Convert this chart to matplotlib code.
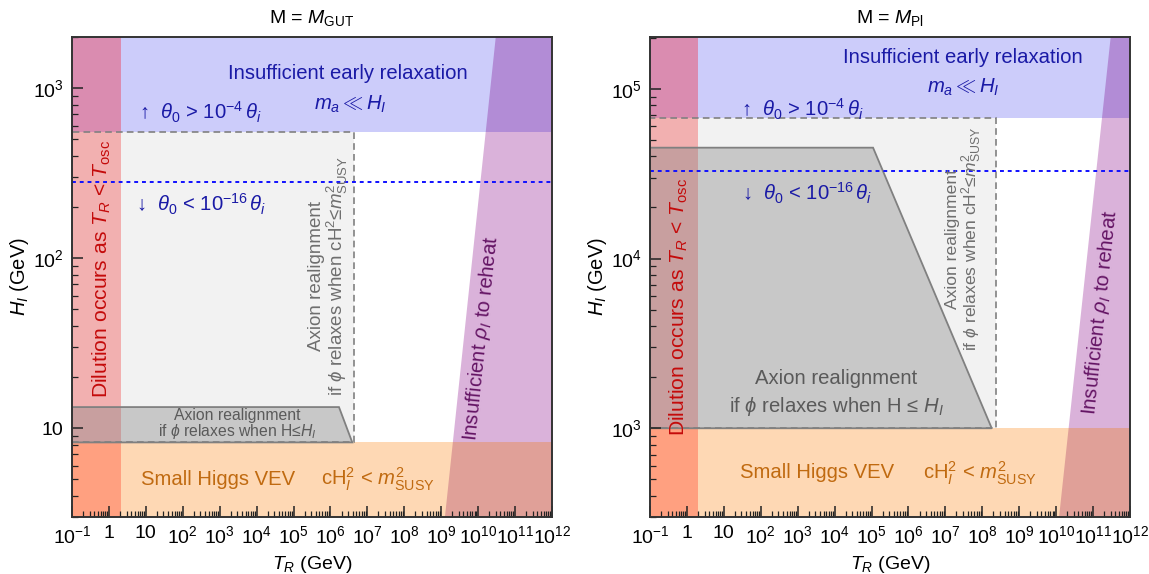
import matplotlib
matplotlib.use("Agg")
import matplotlib.pyplot as plt
from matplotlib.patches import Rectangle, Polygon
from matplotlib.ticker import FixedLocator, LogLocator, NullFormatter

plt.rcParams['font.family'] = ['Liberation Sans', 'DejaVu Sans']
plt.rcParams['mathtext.fontset'] = 'custom'
plt.rcParams['mathtext.rm'] = 'Liberation Sans'
plt.rcParams['mathtext.it'] = 'Liberation Sans:italic'
plt.rcParams['mathtext.bf'] = 'Liberation Sans:bold'

# eixo x comum (T_R em GeV)
T_lim = [1e-1, 1e12]
x_ticks = [1e-1, 1, 10, 1e2, 1e3, 1e4, 1e5, 1e6, 1e7, 1e8, 1e9, 1e10, 1e11, 1e12]
x_labels = ['$10^{-1}$', '1', '10', '$10^{2}$', '$10^{3}$', '$10^{4}$', '$10^{5}$',
            '$10^{6}$', '$10^{7}$', '$10^{8}$', '$10^{9}$', '$10^{10}$', '$10^{11}$', '$10^{12}$']

# painel esquerdo, M = M_GUT
gut_ylim = [3, 2000]
gut_yticks = [10, 100, 1000]
gut_ylabels = ['10', '$10^{2}$', '$10^{3}$']
gut_T_osc = 2.08           # faixa vermelha (diluicao)
gut_H_blue = 553           # acima: relaxacao insuficiente
gut_H_orange = 8.24        # abaixo: VEV de Higgs pequeno
gut_H_dot = 279            # linha pontilhada azul
gut_box_T = 4.4e6          # caixa tracejada cinza claro
gut_trap_T = [1.7e6, 3.9e6]  # cantos direitos do trapezio (topo, base)
gut_trap_H = 13.3
gut_reheat_T = [1.26e9, 3.0e10]  # borda da regiao roxa (base, topo)

# painel direito, M = M_Pl
pl_ylim = [300, 2.02e5]
pl_yticks = [1e3, 1e4, 1e5]
pl_ylabels = ['$10^{3}$', '$10^{4}$', '$10^{5}$']
pl_T_osc = 2.0
pl_H_blue = 6.7e4
pl_H_orange = 1000
pl_H_dot = 3.3e4
pl_box_T = 2.35e8
pl_trap_T = [1.1e5, 1.8e8]
pl_trap_H = 4.5e4
pl_reheat_T = [1.2e10, 3.0e11]

# cores
c_blue = '#ccccfa'
c_orange = '#fed8b4'
c_red = '#f2b0b0'
c_red_blue = '#da8cb0'
c_red_orange = '#ffa080'
c_purple = '#dab2da'
c_purple_blue = '#b28cd6'
c_purple_orange = '#e0a098'
c_light = '#f2f2f2'
c_dark = (134/255, 134/255, 134/255, 0.39)
c_edge = '#808080'

txt_blue = '#1a1aa6'
txt_red = '#c40a0a'
txt_orange = '#c06a10'
txt_purple = '#641464'
txt_gray = '#6e6e6e'

fs = 14.6  # tamanho dos textos principais


def painel(ax, ylim, yticks, ylabels, T_osc, H_blue, H_orange, H_dot,
           box_T, trap_T, trap_H, reheat_T):
    x0, x1 = T_lim
    y0, y1 = ylim
    ax.set_xscale('log')
    ax.set_yscale('log')
    ax.set_xlim(x0, x1)
    ax.set_ylim(y0, y1)

    # caixa cinza claro (realinhamento se cH^2 <= m_susy^2)
    ax.add_patch(Rectangle((x0, H_orange), box_T - x0, H_blue - H_orange,
                           facecolor=c_light, edgecolor='none', zorder=1))
    ax.add_patch(Rectangle((x0, H_orange), box_T - x0, H_blue - H_orange,
                           fill=False, edgecolor=c_edge, ls=(0, (4, 2.5)), lw=1.2, zorder=6))

    # faixas horizontais
    ax.fill_between([x0, x1], H_blue, y1, color=c_blue, lw=0, zorder=2)
    ax.fill_between([x0, x1], y0, H_orange, color=c_orange, lw=0, zorder=2)

    # faixa vermelha
    ax.fill_between([x0, T_osc], H_orange, H_blue, color=c_red, lw=0, zorder=3)
    ax.fill_between([x0, T_osc], H_blue, y1, color=c_red_blue, lw=0, zorder=3)
    ax.fill_between([x0, T_osc], y0, H_orange, color=c_red_orange, lw=0, zorder=3)

    # regiao roxa inclinada, cortada em tres faixas
    verts = [(reheat_T[0], y0), (reheat_T[1], y1), (x1, y1), (x1, y0)]
    for lo, hi, cor in [(H_orange, H_blue, c_purple), (H_blue, y1, c_purple_blue),
                        (y0, H_orange, c_purple_orange)]:
        p = Polygon(verts, closed=True, facecolor=cor, edgecolor='none', zorder=3)
        ax.add_patch(p)
        clip = Rectangle((x0, lo), x1 - x0, hi - lo, transform=ax.transData)
        p.set_clip_path(clip)

    # trapezio cinza escuro
    trap = [(x0, H_orange), (x0, trap_H), (trap_T[0], trap_H), (trap_T[1], H_orange)]
    ax.add_patch(Polygon(trap, closed=True, facecolor=c_dark, edgecolor=c_edge,
                         lw=1.3, zorder=5))

    # linha pontilhada
    ax.plot([x0, x1], [H_dot, H_dot], color='#1010ff', ls=(0, (2, 2)), lw=1.4, zorder=7)

    ax.xaxis.set_major_locator(FixedLocator(x_ticks))
    ax.set_xticklabels(x_labels)
    ax.xaxis.set_minor_locator(LogLocator(base=10, subs=range(2, 10), numticks=100))
    ax.xaxis.set_minor_formatter(NullFormatter())
    ax.yaxis.set_major_locator(FixedLocator(yticks))
    ax.set_yticklabels(ylabels)
    ax.yaxis.set_minor_locator(LogLocator(base=10, subs=range(2, 10), numticks=100))
    ax.yaxis.set_minor_formatter(NullFormatter())
    ax.tick_params(which='both', direction='in', top=False, right=False,
                   labelsize=14, color='#222222')
    ax.tick_params(which='major', length=8, width=1.1, pad=6)
    ax.tick_params(which='minor', length=4, width=0.9)
    ax.xaxis.set_zorder(20)
    ax.yaxis.set_zorder(20)
    for s in ax.spines.values():
        s.set_color('#333333')
        s.set_linewidth(1.4)
        s.set_zorder(21)

    ax.set_xlabel('$T_R$ (GeV)', fontsize=14, labelpad=5)
    ax.set_ylabel('$H_I$ (GeV)', fontsize=14.5, labelpad=1)


fig = plt.figure(figsize=(11.49, 5.74), dpi=100)
axL = fig.add_axes([72/1149, 57/574, 480/1149, 480/574])
axR = fig.add_axes([650/1149, 57/574, 480/1149, 480/574])

painel(axL, gut_ylim, gut_yticks, gut_ylabels, gut_T_osc, gut_H_blue, gut_H_orange,
       gut_H_dot, gut_box_T, gut_trap_T, gut_trap_H, gut_reheat_T)
painel(axR, pl_ylim, pl_yticks, pl_ylabels, pl_T_osc, pl_H_blue, pl_H_orange,
       pl_H_dot, pl_box_T, pl_trap_T, pl_trap_H, pl_reheat_T)

axL.set_title(r'M = $M_{\rm GUT}$', fontsize=14, pad=10)
axR.set_title(r'M = $M_{\rm Pl}$', fontsize=14, pad=10)

up_txt = r'↑  $\theta_0$ > $10^{-4}\,\theta_i$'
down_txt = r'↓  $\theta_0$ < $10^{-16}\,\theta_i$'
dil_txt = r'Dilution occurs as $T_R$ < $T_{\rm osc}$'
box_txt = 'Axion realignment\n' + r'if $\phi$ relaxes when cH$^2$≤$m^2_{\rm SUSY}$'
reh_txt = r'Insufficient $\rho_I$ to reheat'
vev_txt = r'cH$_I^2$ < $m^2_{\rm SUSY}$'

# textos - painel esquerdo
t = axL.transAxes
axL.text(0.575, 0.923, 'Insufficient early relaxation', transform=t, color=txt_blue,
         fontsize=fs, ha='center', va='center', zorder=8)
axL.text(0.579, 0.86, r'$m_a \ll H_I$', transform=t, color=txt_blue,
         fontsize=fs, ha='center', va='center', zorder=8)
axL.text(0.14, 0.842, up_txt, transform=t, color=txt_blue,
         fontsize=fs, ha='left', va='center', zorder=8)
axL.text(0.133, 0.652, down_txt, transform=t, color=txt_blue,
         fontsize=fs, ha='left', va='center', zorder=8)
axL.text(0.063, 0.517, dil_txt, transform=t,
         color=txt_red, fontsize=15.2, rotation=90, ha='center', va='center', zorder=8)
axL.text(0.535, 0.503, box_txt,
         transform=t, color=txt_gray, fontsize=13.5, rotation=90, ha='center', va='center',
         multialignment='center', linespacing=1.0, zorder=8)
axL.text(0.344, 0.192, 'Axion realignment\n' + r'if $\phi$ relaxes when H≤$H_I$', transform=t,
         color='#5a5a5a', fontsize=11.3, ha='center', va='center', multialignment='center',
         linespacing=0.92, zorder=8)
axL.text(0.852, 0.373, reh_txt, transform=t, color=txt_purple,
         fontsize=fs, rotation=84, ha='center', va='center', zorder=8)
axL.text(0.304, 0.078, 'Small Higgs VEV', transform=t, color=txt_orange,
         fontsize=fs, ha='center', va='center', zorder=8)
axL.text(0.6375, 0.078, vev_txt, transform=t, color=txt_orange,
         fontsize=fs, ha='center', va='center', zorder=8)

# textos - painel direito
t = axR.transAxes
axR.text(0.652, 0.958, 'Insufficient early relaxation', transform=t, color=txt_blue,
         fontsize=fs, ha='center', va='center', zorder=8)
axR.text(0.653, 0.895, r'$m_a \ll H_I$', transform=t, color=txt_blue,
         fontsize=fs, ha='center', va='center', zorder=8)
axR.text(0.19, 0.85, up_txt, transform=t, color=txt_blue,
         fontsize=fs, ha='left', va='center', zorder=8)
axR.text(0.192, 0.675, down_txt, transform=t, color=txt_blue,
         fontsize=fs, ha='left', va='center', zorder=8)
axR.text(0.06, 0.4375, dil_txt, transform=t,
         color=txt_red, fontsize=15.2, rotation=90, ha='center', va='center', zorder=8)
axR.text(0.655, 0.58, box_txt,
         transform=t, color=txt_gray, fontsize=12.6, rotation=90, ha='center', va='center',
         multialignment='center', linespacing=0.95, zorder=8)
axR.text(0.3875, 0.257, 'Axion realignment\n' + r'if $\phi$ relaxes when H ≤ $H_I$', transform=t,
         color='#5a5a5a', fontsize=fs, ha='center', va='center', multialignment='center',
         linespacing=1.45, zorder=8)
axR.text(0.9375, 0.427, reh_txt, transform=t, color=txt_purple,
         fontsize=fs, rotation=84, ha='center', va='center', zorder=8)
axR.text(0.348, 0.092, 'Small Higgs VEV', transform=t, color=txt_orange,
         fontsize=fs, ha='center', va='center', zorder=8)
axR.text(0.6875, 0.092, vev_txt, transform=t, color=txt_orange,
         fontsize=fs, ha='center', va='center', zorder=8)

fig.savefig('out.png', dpi=100)
